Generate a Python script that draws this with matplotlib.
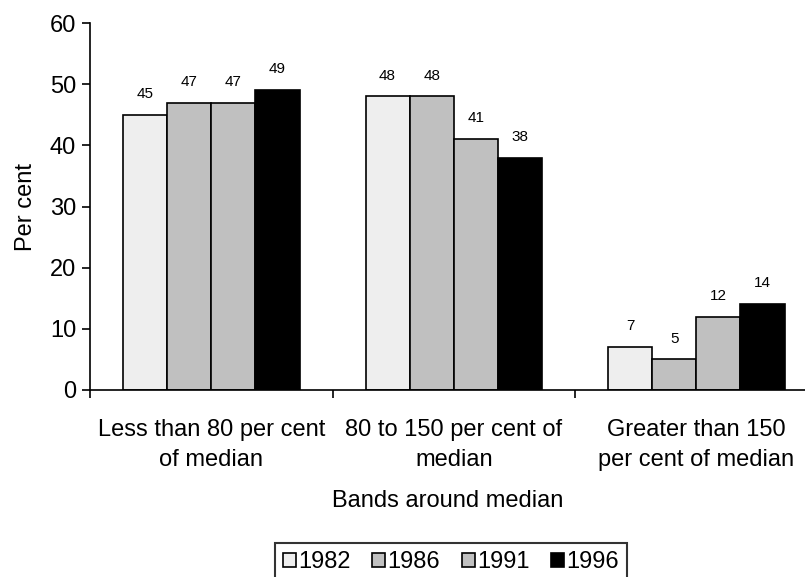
import matplotlib.pyplot as plt
import numpy as np

plt.rcParams['font.family'] = ['Liberation Sans', 'DejaVu Sans']

categories = ["Less than 80 per cent\nof median",
              "80 to 150 per cent of\nmedian",
              "Greater than 150\nper cent of median"]
years = ["1982", "1986", "1991", "1996"]
values = {
    "1982": [45, 48, 7],
    "1986": [47, 48, 5],
    "1991": [47, 41, 12],
    "1996": [49, 38, 14],
}
colors = ["#eeeeee", "#c0c0c0", "#c0c0c0", "#000000"]

fs = 17

fig = plt.figure(figsize=(8.05, 5.77), dpi=100)
ax = fig.add_axes([90 / 805, 187 / 577, 715 / 805, 367 / 577])

x = np.arange(len(categories))
w = 0.182
for i, yr in enumerate(years):
    pos = x + (i - 1.5) * w
    bars = ax.bar(pos, values[yr], width=w, color=colors[i], edgecolor="black",
                  linewidth=1.2, label=yr)
    for b, v in zip(bars, values[yr]):
        ax.annotate(str(v), (b.get_x() + b.get_width() / 2, v),
                    xytext=(0, 10), textcoords="offset points",
                    ha="center", va="bottom", fontsize=11)

ax.set_xlim(-0.5, 2.448)
ax.set_ylim(0, 60)
ax.set_yticks(range(0, 61, 10))
ax.set_xticks(x)
ax.set_xticklabels(categories, fontsize=fs, linespacing=1.45)
ax.set_xticks([-0.5, 0.5, 1.5], minor=True)
ax.tick_params(axis="x", which="major", length=0, pad=21)
ax.tick_params(axis="x", which="minor", length=6, width=1.2, direction="out")
ax.tick_params(axis="y", length=6, width=1.2, labelsize=fs, pad=4)
for s in ["left", "bottom"]:
    ax.spines[s].set_linewidth(1.2)
ax.spines["top"].set_visible(False)
ax.spines["right"].set_visible(False)
ax.set_ylabel("Per cent", fontsize=fs, labelpad=9)
ax.set_xlabel("Bands around median", fontsize=fs, labelpad=14)

leg = fig.legend(loc="upper left", bbox_to_anchor=(275 / 805, 1 - 543 / 577),
                 ncol=4, fontsize=fs, frameon=True, fancybox=False,
                 edgecolor="black", handlelength=0.55, handleheight=0.55,
                 handletextpad=0.1, columnspacing=0.9, borderpad=0.35,
                 borderaxespad=0)
leg.get_frame().set_linewidth(1.5)

plt.savefig("out.png", dpi=100)
